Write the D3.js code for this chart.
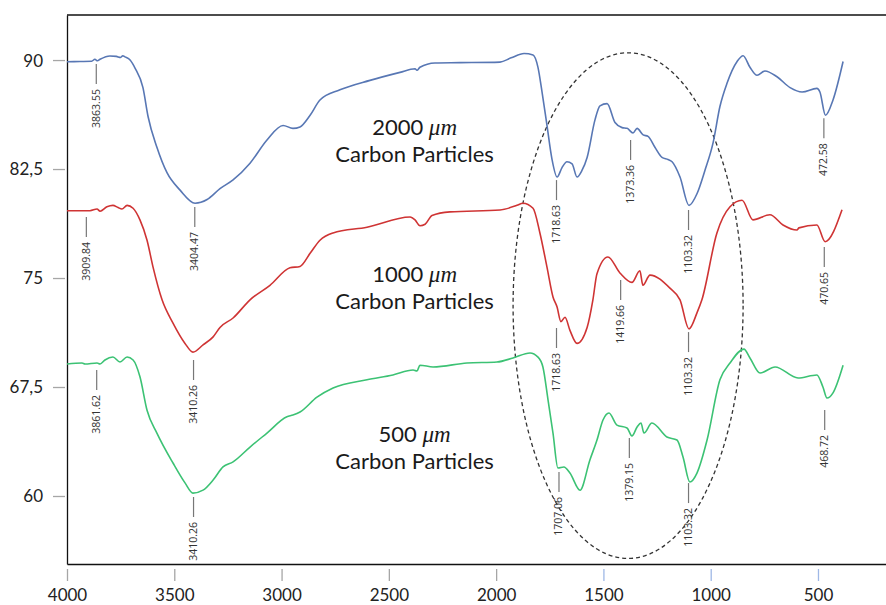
<!DOCTYPE html>
<html>
<head>
<meta charset="utf-8">
<script src="https://cdn.jsdelivr.net/npm/d3@7"></script>
<style>
  html, body { margin: 0; padding: 0; background: #fff; }
  svg { display: block; }
</style>
</head>
<body>
<svg id="chart" width="886" height="605"></svg>
<script>
// ---------- DATA ----------
const xTicks = [4000, 3500, 3000, 2500, 2000, 1500, 1000, 500];
const yTicks = [90, 82.5, 75, 67.5, 60];

const wnBlue = [4000,3940,3885,3870,3858,3846,3800,3770,3750,3740,3730,3706,3683,3646,3622,3581,3534,3473,3403,3347,3287,3226,3147,3068,2993,2947,2914,2867,2821,2728,2588,2448,2378,2369,2355,2285,2168,1982,1930,1870,1828,1805,1786,1763,1740,1716,1693,1670,1646,1623,1600,1576,1539,1516,1483,1446,1413,1390,1362,1343,1315,1292,1260,1227,1199,1180,1143,1101,1064,1027,989,957,924,877,849,817,784,747,691,630,574,505,491,465,430,383];
const tBlue = [89.88,89.9,89.92,90.05,89.95,90.05,90.28,90.25,90.18,90.3,90.22,90.0,89.45,88.1,86.1,84.0,82.25,81.05,80.15,80.4,81.15,81.75,82.9,84.5,85.5,85.3,85.4,86.2,87.25,87.95,88.6,89.15,89.4,89.3,89.5,89.8,89.82,89.86,90.15,90.45,90.35,89.5,87.8,85.5,83.2,81.95,82.6,83.0,82.85,81.95,82.4,83.3,85.9,86.85,87.0,85.7,85.35,85.3,84.98,85.3,84.85,84.75,84.0,83.3,83.15,83.0,81.95,80.0,80.8,82.4,84.3,86.8,88.4,89.9,90.3,89.5,88.95,89.25,88.85,88.1,87.8,88.05,87.8,86.2,87.25,89.9];

const wnRed = [4000,3893,3860,3846,3814,3786,3762,3744,3720,3692,3660,3627,3599,3557,3506,3450,3413,3366,3319,3287,3226,3147,3054,2961,2914,2867,2821,2760,2602,2401,2378,2355,2331,2299,2215,1982,1903,1875,1828,1796,1763,1735,1716,1698,1679,1656,1623,1576,1549,1530,1479,1423,1367,1330,1316,1283,1190,1143,1101,1064,1041,971,910,854,803,724,663,598,589,505,467,388];
const tRed = [79.63,79.63,79.75,79.6,79.9,80.0,79.85,79.75,80.0,79.8,79.0,77.6,75.75,73.5,71.9,70.5,69.9,70.4,70.95,71.6,72.25,73.5,74.5,75.7,75.8,76.7,77.6,78.1,78.5,79.2,79.0,78.6,78.7,79.3,79.55,79.68,80.0,80.15,79.8,78.1,75.75,73.7,73.0,72.0,72.3,71.4,70.5,71.6,73.5,75.3,76.45,75.35,74.7,75.5,74.5,75.2,74.3,73.5,71.5,72.6,73.5,78.1,79.9,80.35,79.0,79.35,78.65,78.3,78.45,78.65,77.5,79.7];

const wnGreen = [4000,3930,3916,3860,3846,3823,3786,3753,3720,3692,3660,3627,3581,3506,3450,3413,3366,3319,3273,3226,3147,3068,2975,2947,2914,2835,2760,2602,2481,2387,2369,2355,2294,2136,1996,1921,1842,1805,1782,1758,1735,1712,1684,1656,1609,1563,1530,1502,1474,1437,1390,1367,1343,1325,1311,1274,1204,1157,1129,1097,1064,1017,957,910,845,817,770,700,593,505,477,458,430,383];
const tGreen = [69.08,69.15,69.08,69.15,69.08,69.36,69.56,69.22,69.56,69.36,68.2,65.9,64.33,62.27,60.9,60.2,60.4,61.1,62.0,62.35,63.37,64.33,65.45,65.57,65.78,66.8,67.43,68.0,68.33,68.67,68.6,69.0,68.88,69.15,69.22,69.5,69.84,69.56,68.88,66.6,64.33,61.93,62.0,61.58,60.4,62.48,63.85,65.23,65.71,64.88,64.68,64.13,64.75,65.02,64.33,65.02,64.06,63.85,62.68,60.96,61.58,63.85,68.0,69.15,70.11,69.5,68.46,68.88,68.12,68.33,67.5,66.74,67.1,69.0];

// peak annotations: label (wavenumber) and transmittance where the leader starts
const annBlueLabels = ["3863.55","3404.47","1718.63","1373.36","1103.32","472.58"];
const annBlueValues = [89.72, 79.88, 81.74, 84.5, 79.68, 86.0];
const annRedLabels = ["3909.84","3410.26","1718.63","1419.66","1103.32","470.65"];
const annRedValues = [79.2, 69.36, 71.56, 74.86, 71.28, 77.13];
const annGreenLabels = ["3861.62","3410.26","1707.06","1379.15","1103.32","468.72"];
const annGreenValues = [68.67, 59.93, 61.65, 63.99, 60.89, 65.92];

const seriesSizes = ["2000", "1000", "500"];
const seriesUnit = "\u03BCm";
const seriesCaption = "Carbon Particles";
const seriesLabelValues = [84.84, 74.72, 63.72];
const seriesLabelWn = 2380;

// region of interest ellipse (data units): centre and half-axes
const ellipseCentre = [1385, 73.1];
const ellipseHalf = [536, 17.4];

// ---------- CHART ----------
const svg = d3.select("#chart");
const x = d3.scaleLinear().domain([4000, 183]).range([67, 886]);
const y = d3.scaleLinear().domain([55.32, 93.1]).range([564, 15]);

const colors = { blue: "#5877b4", red: "#cf3434", green: "#3cc274" };
const series = [
  { wn: wnBlue, t: tBlue, color: colors.blue, labels: annBlueLabels, vals: annBlueValues },
  { wn: wnRed, t: tRed, color: colors.red, labels: annRedLabels, vals: annRedValues },
  { wn: wnGreen, t: tGreen, color: colors.green, labels: annGreenLabels, vals: annGreenValues }
];

// top frame line
svg.append("line")
  .attr("x1", x.range()[0]).attr("x2", x.range()[1])
  .attr("y1", y.range()[1]).attr("y2", y.range()[1])
  .attr("stroke", "#111").attr("stroke-width", 1.3);

// x axis
const gx = svg.append("g").attr("transform", `translate(0,${y.range()[0]})`)
  .call(d3.axisBottom(x).tickValues(xTicks).tickSize(0).tickFormat(d3.format("d")));
gx.select(".domain").attr("stroke", "#111").attr("stroke-width", 1.3);
gx.selectAll(".tick line").remove();
gx.selectAll(".tick").append("line")
  .attr("y1", 5).attr("y2", 17)
  .attr("stroke", d => d <= 1500 ? "#9fb8e6" : "#a6a6a6").attr("stroke-width", 1.3);
gx.selectAll(".tick text")
  .attr("y", 25).attr("dy", "0.71em")
  .attr("font-family", "Lato, 'Open Sans', sans-serif").attr("font-size", 17).attr("fill", "#222");

// y axis
const gy = svg.append("g").attr("transform", `translate(${x.range()[0]},0)`)
  .call(d3.axisLeft(y).tickValues(yTicks).tickSize(0).tickFormat(d => String(d).replace(".", ",")));
gy.select(".domain").attr("stroke", "#111").attr("stroke-width", 1.3);
gy.selectAll(".tick line").remove();
gy.selectAll(".tick").append("line")
  .attr("x1", -14).attr("x2", -2)
  .attr("stroke", "#a6a6a6").attr("stroke-width", 1.3);
gy.selectAll(".tick text")
  .attr("x", -24).attr("dy", "0.35em")
  .attr("font-family", "Lato, 'Open Sans', sans-serif").attr("font-size", 17).attr("fill", "#222");

// ellipse
const ex = x(ellipseCentre[0]), ey = y(ellipseCentre[1]);
svg.append("ellipse")
  .attr("cx", ex).attr("cy", ey)
  .attr("rx", Math.abs(x(ellipseCentre[0] - ellipseHalf[0]) - ex))
  .attr("ry", Math.abs(y(ellipseCentre[1] - ellipseHalf[1]) - ey))
  .attr("fill", "none").attr("stroke", "#333").attr("stroke-width", 1.3)
  .attr("stroke-dasharray", "4,3");

// lines
const line = d3.line().x(d => x(d[0])).y(d => y(d[1])).curve(d3.curveMonotoneX);
series.forEach(s => {
  const pts = s.wn.map((w, i) => [w, s.t[i]]);
  svg.append("path").datum(pts)
    .attr("d", line).attr("fill", "none")
    .attr("stroke", s.color).attr("stroke-width", 1.6);
});

// annotations
series.forEach(s => {
  s.labels.forEach((lab, i) => {
    const px = x(parseFloat(lab));
    const py = y(s.vals[i]);
    svg.append("line")
      .attr("x1", px).attr("x2", px)
      .attr("y1", py).attr("y2", py + 20)
      .attr("stroke", "#777").attr("stroke-width", 1.2);
    svg.append("text")
      .attr("transform", `translate(${px + 3.5},${py + 25}) rotate(-90)`)
      .attr("text-anchor", "end")
      .attr("font-family", "'Open Sans', 'Noto Sans', sans-serif")
      .attr("font-size", 10.5).attr("fill", "#333")
      .text(lab);
  });
});

// series labels
seriesSizes.forEach((sz, i) => {
  const cx = x(seriesLabelWn), by = y(seriesLabelValues[i]);
  const t1 = svg.append("text")
    .attr("x", cx).attr("y", by).attr("text-anchor", "middle")
    .attr("font-family", "Lato, 'Open Sans', sans-serif").attr("font-size", 22).attr("fill", "#1a1a1a");
  t1.append("tspan").text(sz + " ");
  t1.append("tspan").attr("font-family", "'Liberation Serif', 'DejaVu Serif', serif")
    .attr("font-style", "italic").attr("font-size", 23).text(seriesUnit);
  svg.append("text")
    .attr("x", cx).attr("y", by + 27).attr("text-anchor", "middle")
    .attr("font-family", "Lato, 'Open Sans', sans-serif").attr("font-size", 22).attr("fill", "#1a1a1a")
    .text(seriesCaption);
});
</script>
</body>
</html>
